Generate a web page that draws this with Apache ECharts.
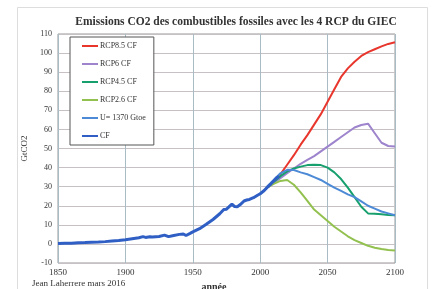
<!DOCTYPE html>
<html><head><meta charset="utf-8">
<script src="https://cdn.jsdelivr.net/npm/echarts@6/dist/echarts.min.js"></script>
<style>html,body{margin:0;padding:0;background:#fff}#c{width:435px;height:289px}</style>
</head><body><div id="c"></div>
<script>
const titleText = 'Emissions CO2 des combustibles fossiles avec les 4 RCP du GIEC';
const xTicks = [1850, 1900, 1950, 2000, 2050, 2100];
const yTicks = [-10, 0, 10, 20, 30, 40, 50, 60, 70, 80, 90, 100, 110];

const cfYears = [1850,1855,1860,1865,1870,1875,1880,1885,1890,1895,1900,1905,1910,1913,1915,1918,1920,1925,1929,1932,1935,1940,1943,1945,1948,1950,1955,1960,1965,1970,1973,1975,1977,1979,1981,1983,1985,1988,1990,1992,1995,1998,2000,2003,2005,2008,2009,2010,2012,2014];
const cfValues = [0.2,0.3,0.4,0.6,0.7,0.9,1.0,1.2,1.5,1.8,2.2,2.7,3.2,3.8,3.4,3.8,3.6,3.9,4.6,3.8,4.3,5.0,5.2,4.4,5.5,6.3,8.0,10.3,12.8,15.8,18.0,18.2,19.5,20.8,19.6,19.5,20.5,22.5,23.0,23.3,24.2,25.5,26.3,28.0,29.5,31.5,31.0,33.0,34.5,35.5];

const scenYears = [2005,2010,2015,2020,2025,2030,2035,2040,2045,2050,2055,2060,2065,2070,2075,2080,2085,2090,2095,2100];
const rcp85 = [29.5,32,36.5,41.5,46.5,52,57,62.5,68,74.5,81,87.5,92,95.5,98.5,100.5,102,103.5,104.8,105.7];
const rcp6  = [29.5,32,34.5,37,39.5,42,44,46,48.5,51,53.5,56,58.5,61,62.3,63,58,53,51.3,51];
const rcp45 = [29.5,32.5,35.5,38,39.5,40.5,41.3,41.5,41.3,40,37.5,34,29.5,24.5,19.5,16,15.8,15.5,15.2,15];
const rcp26 = [29.5,31.5,33,33.5,31,27,22.5,18,15,12,9,6.5,4,2,0.5,-1,-2,-2.7,-3.2,-3.5];
const u1370 = [30,33.5,37,38.8,38.7,37.5,36.5,35,33.5,31.5,29.5,27.8,26,24.5,22.3,20,18.5,17,16,15];

const names = ['RCP8.5 CF','RCP6 CF','RCP4.5 CF','RCP2.6 CF','U= 1370 Gtoe','CF'];
const colors = ['#e8362d','#9d84cc','#17a06e','#93c150','#4d8ad6','#2f5fc4'];

function pairs(xs, ys){ return xs.map((x,i)=>[x, ys[i]]); }
const serif = '"Liberation Serif","DejaVu Serif",serif';

const scenData = [rcp85, rcp6, rcp45, rcp26, u1370];
const series = scenData.map((d,i)=>({
  name: names[i], type:'line', symbol:'none', data: pairs(scenYears, d),
  lineStyle:{color:colors[i], width:2}, itemStyle:{color:colors[i]}, z:2
}));
series.push({name:'CF', type:'line', symbol:'none', data: pairs(cfYears, cfValues),
  lineStyle:{color:colors[5], width:3}, itemStyle:{color:colors[5]}, z:3});

const chart = echarts.init(document.getElementById('c'), null, {renderer:'canvas'});
chart.setOption({
  animation:false,
  backgroundColor:'#fff',
  title:{text:titleText, left:231, textAlign:'center', top:11,
    textStyle:{fontFamily:serif, fontSize:11.5, fontWeight:'bold', color:'#333'}},
  graphic:[
    {type:'rect', shape:{x:17.5,y:7.5,width:410,height:290}, style:{fill:'none', stroke:'#ddd', lineWidth:1}, silent:true},
    {type:'text', left:32, top:279, style:{text:'Jean Laherrere mars 2016', font:'9px '+serif, fill:'#333'}},
    {type:'text', x:214, y:282, style:{text:'année', font:'bold 10px '+serif, fill:'#333', textAlign:'center'}}
  ],
  legend:{
    orient:'vertical', left:70, top:37, icon:'rect', itemWidth:16, itemHeight:2, itemGap:10,
    padding:[5,8,5,12], borderColor:'#555', borderWidth:1, backgroundColor:'#fff',
    textStyle:{fontFamily:serif, fontSize:8, color:'#333', padding:[0,0,0,-3]},
    data:names
  },
  grid:{left:58, right:40, top:34, bottom:26, show:true, borderColor:'#999', borderWidth:1},
  xAxis:{type:'value', min:xTicks[0], max:xTicks[xTicks.length-1], interval:50,
    axisLine:{show:false}, axisTick:{show:false},
    axisLabel:{fontFamily:serif, fontSize:9, color:'#333', margin:5, formatter:v=>String(v)},
    splitLine:{show:true, lineStyle:{color:'#a8bcc6', width:1}}},
  yAxis:{type:'value', min:yTicks[0], max:yTicks[yTicks.length-1], interval:10,
    name:'GtCO2', nameLocation:'middle', nameGap:21, nameRotate:90,
    nameTextStyle:{fontFamily:serif, fontSize:9, color:'#333'},
    axisLine:{show:false}, axisTick:{show:false},
    axisLabel:{fontFamily:serif, fontSize:8, color:'#333', margin:6},
    splitLine:{show:true, lineStyle:{color:'#c7c1c6', width:1}}},
  series: series
});
</script></body></html>
